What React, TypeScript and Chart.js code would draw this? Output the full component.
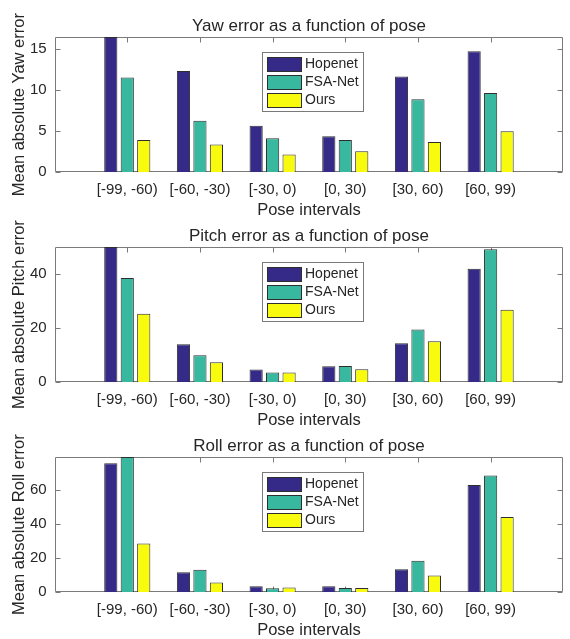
import React, { useEffect, useRef } from "react";
import { Chart, registerables } from "chart.js";

Chart.register(...registerables);

// ---------- data ----------
const categories = ["[-99, -60)", "[-60, -30)", "[-30, 0)", "[0, 30)", "[30, 60)", "[60, 99)"];
const seriesNames = ["Hopenet", "FSA-Net", "Ours"];

const yawHopenet = [16.5, 12.34, 5.69, 4.4, 11.69, 14.76];
const yawFSANet = [11.57, 6.29, 4.15, 3.95, 8.91, 9.68];
const yawOurs = [3.95, 3.39, 2.18, 2.58, 3.71, 5.0];
const yawTicks = [0, 5, 10, 15];
const yawMax = 16.5;

const pitchHopenet = [49.9, 14.07, 4.7, 5.9, 14.4, 41.85];
const pitchFSANet = [38.5, 10.0, 3.6, 6.05, 19.5, 49.1];
const pitchOurs = [25.3, 7.4, 3.6, 4.8, 15.1, 26.8];
const pitchTicks = [0, 20, 40];
const pitchMax = 49.9;

const rollHopenet = [75.8, 11.8, 3.5, 3.5, 13.6, 63.0];
const rollFSANet = [79.5, 13.2, 2.4, 2.6, 18.5, 68.7];
const rollOurs = [28.7, 5.7, 2.8, 2.6, 9.8, 44.3];
const rollTicks = [0, 20, 40, 60];
const rollMax = 79.5;

// ---------- style ----------
const FONT = '"Liberation Sans", Arial, Helvetica, sans-serif';
const TEXT = "#262626";
const AXIS = "#7a7a7a";
const COLORS = ["#352a87", "#38b89f", "#f9fb0e"];
const EDGE = "#2e2e2e";
const CANVAS_W = 572;
const CANVAS_H = 222;

const boxAndTicks = {
  id: "boxAndTicks",
  beforeDatasetsDraw(chart: any) {
    const { ctx, chartArea } = chart;
    const { left, right, top, bottom } = chartArea;
    const ys = chart.scales.y;
    const xs = chart.scales.x;
    ctx.save();
    ctx.strokeStyle = AXIS;
    ctx.lineWidth = 1;
    const L = Math.round(left) + 0.5;
    const R = Math.round(right) - 0.5;
    const T = Math.round(top) + 0.5;
    const B = Math.round(bottom) - 0.5;
    ctx.beginPath();
    ctx.rect(L, T, R - L, B - T);
    ys.ticks.forEach((t: any) => {
      const y = Math.round(ys.getPixelForValue(t.value)) + 0.5;
      ctx.moveTo(L, y);
      ctx.lineTo(L + 5, y);
      ctx.moveTo(R, y);
      ctx.lineTo(R - 5, y);
    });
    for (let i = 1; i <= categories.length; i++) {
      const x = Math.round(xs.getPixelForValue(i)) + 0.5;
      ctx.moveTo(x, T);
      ctx.lineTo(x, T + 5);
      ctx.moveTo(x, B);
      ctx.lineTo(x, B - 5);
    }
    ctx.stroke();
    ctx.restore();
  },
};

const boxedLegend = {
  id: "boxedLegend",
  afterDraw(chart: any) {
    const { ctx, chartArea } = chart;
    const x0 = Math.round(chartArea.left + 207.4);
    const y0 = Math.round(chartArea.top + 15.3);
    const w = 101;
    const h = 59;
    ctx.save();
    ctx.fillStyle = "#ffffff";
    ctx.fillRect(x0, y0, w, h);
    ctx.strokeStyle = AXIS;
    ctx.lineWidth = 1;
    ctx.strokeRect(x0 + 0.5, y0 + 0.5, w, h);
    chart.data.datasets.forEach((ds: any, i: number) => {
      const cy = y0 + 11.5 + i * 18.3;
      const sx = x0 + 5;
      const sy = Math.round(cy - 7);
      ctx.fillStyle = ds.backgroundColor;
      ctx.fillRect(sx, sy, 34, 14);
      ctx.strokeStyle = EDGE;
      ctx.strokeRect(sx + 0.5, sy + 0.5, 34, 14);
      ctx.fillStyle = TEXT;
      ctx.font = `14px ${FONT}`;
      ctx.textBaseline = "middle";
      ctx.textAlign = "left";
      ctx.fillText(ds.label, x0 + 43, cy + 0.5);
    });
    ctx.restore();
  },
};

type PanelProps = {
  title: string;
  yLabel: string;
  series: number[][];
  ticks: number[];
  max: number;
  top: number;
};

function Panel({ title, yLabel, series, ticks, max, top }: PanelProps) {
  const ref = useRef<HTMLCanvasElement | null>(null);

  useEffect(() => {
    if (!ref.current) return;
    const labels = ["", ...categories, ""];
    const pad = (arr: number[]) => [null, ...arr, null];
    const chart = new Chart(ref.current, {
      type: "bar",
      data: {
        labels,
        datasets: seriesNames.map((name, i) => ({
          label: name,
          data: pad(series[i]) as any,
          backgroundColor: COLORS[i],
          borderColor: EDGE,
          borderWidth: 1,
          categoryPercentage: 0.68,
          barPercentage: 0.8,
        })),
      },
      options: {
        animation: false,
        responsive: false,
        devicePixelRatio: 1,
        layout: { padding: { left: 0, right: 2, top: 0, bottom: 0 } },
        plugins: {
          legend: { display: false },
          tooltip: { enabled: false },
          title: {
            display: true,
            fullSize: false,
            text: title,
            color: TEXT,
            font: { family: FONT, size: 17, weight: "normal", lineHeight: 1.2 },
            padding: { top: 15.8, bottom: 0.8 },
          },
        },
        scales: {
          x: {
            type: "category",
            offset: false,
            grid: { display: false, drawTicks: false },
            border: { display: false },
            ticks: {
              autoSkip: false,
              maxRotation: 0,
              minRotation: 0,
              color: TEXT,
              padding: 8.7,
              font: { family: FONT, size: 15, lineHeight: 1.2 },
            },
            title: {
              display: true,
              text: "Pose intervals",
              color: TEXT,
              font: { family: FONT, size: 16.5, lineHeight: 1.2 },
              padding: { top: 0, bottom: 1.2 },
            },
            afterFit: (s: any) => {
              s.height = 49.7;
            },
          },
          y: {
            min: 0,
            max,
            grid: { display: false, drawTicks: false },
            border: { display: false },
            afterBuildTicks: (s: any) => {
              s.ticks = ticks.map((v) => ({ value: v }));
            },
            ticks: {
              color: TEXT,
              padding: 7.9,
              font: { family: FONT, size: 15, lineHeight: 1.2 },
            },
            title: {
              display: true,
              text: yLabel,
              color: TEXT,
              font: { family: FONT, size: 16.5, lineHeight: 1.2 },
              padding: { top: 9.4, bottom: 0 },
            },
            afterFit: (s: any) => {
              s.width = 54.6;
            },
          },
        },
      } as any,
      plugins: [boxAndTicks, boxedLegend],
    });
    return () => chart.destroy();
  }, [title, yLabel, series, ticks, max]);

  return (
    <canvas
      ref={ref}
      width={CANVAS_W}
      height={CANVAS_H}
      style={{ position: "absolute", left: 0, top, width: CANVAS_W, height: CANVAS_H }}
    />
  );
}

const yawSeries = [yawHopenet, yawFSANet, yawOurs];
const pitchSeries = [pitchHopenet, pitchFSANet, pitchOurs];
const rollSeries = [rollHopenet, rollFSANet, rollOurs];

export default function App() {
  return (
    <div
      style={{
        position: "absolute",
        left: 0,
        top: 0,
        width: 570,
        height: 639,
        overflow: "hidden",
        background: "#ffffff",
      }}
    >
      <Panel
        title="Yaw error as a function of pose"
        yLabel="Mean absolute Yaw error"
        series={yawSeries}
        ticks={yawTicks}
        max={yawMax}
        top={0}
      />
      <Panel
        title="Pitch error as a function of pose"
        yLabel="Mean absolute Pitch error"
        series={pitchSeries}
        ticks={pitchTicks}
        max={pitchMax}
        top={210}
      />
      <Panel
        title="Roll error as a function of pose"
        yLabel="Mean absolute Roll error"
        series={rollSeries}
        ticks={rollTicks}
        max={rollMax}
        top={420}
      />
    </div>
  );
}
